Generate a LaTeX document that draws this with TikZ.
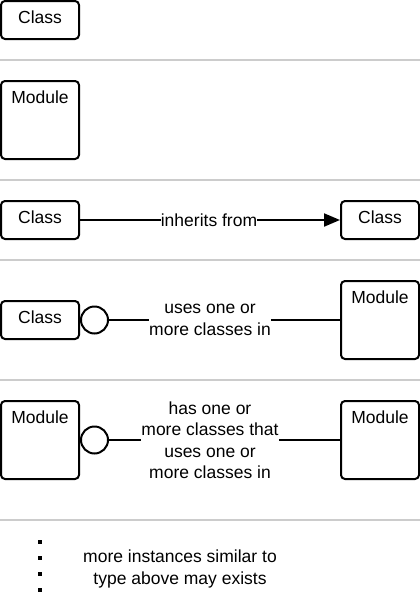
\documentclass[tikz,border=0pt]{standalone}
\usepackage{fontspec}
\setmainfont{Liberation Sans}
\usepackage{xcolor}
\usepackage{tikz}
\usetikzlibrary{positioning,arrows.meta}
\definecolor{sepgray}{RGB}{204,204,204}

\begin{document}
\begin{tikzpicture}[x=1pt,y=-1pt,
	every node/.style={font=\fontsize{17.5}{21.5}\selectfont},
	classbox/.style={draw,rectangle,rounded corners=4pt,line width=2pt,minimum width=78pt,inner xsep=0pt,inner ysep=0pt,text height=22.5pt,text depth=15.5pt},
	modbox/.style={classbox,text depth=55.5pt},
	ring/.style={draw,circle,line width=2pt,minimum size=27pt,inner sep=0pt},
	rellabel/.style={fill=white,inner sep=0pt,align=center}]
	\fill[white] (0,0) rectangle (420,600);
	\useasboundingbox (0,0) rectangle (420,600);
	
	% Trennlinien
	\foreach \y in {60,180,260,380,520}
		\draw[line width=2pt,sepgray] (0,\y) -- (420,\y);
	
	% Klasse
	\node[classbox,anchor=north] (cls) at (40,0) {Class};
	% Modul
	\node[modbox,anchor=north] (mod) at (40,80) {Module};
	
	% Vererbung
	\node[classbox,anchor=north] (inhsrc) at (40,200) {Class};
	\node[classbox,anchor=north] (inhdst) at (380,200) {Class};
	\node[rellabel] (inhlbl) at (209,220) {inherits from};
	\draw[-{Triangle[length=16pt,width=13pt]}, line width=2pt] (inhsrc) -- (inhlbl) -- (inhdst);
	
	% Klasse nutzt Modul
	\node[classbox,anchor=north] (usecls) at (40,300) {Class};
	\node[ring,right=0pt of usecls] (usering) {};
	\node[modbox,anchor=north] (usemod) at (380,280) {Module};
	\node[rellabel] (uselbl) at (210,320) {uses one or\\more classes in};
	\draw[line width=2pt] (usering) -- (uselbl) -- (usemod);
	
	% Modul hat Klassen, die Modul nutzen
	\node[modbox,anchor=north] (hasmod) at (40,400) {Module};
	\node[ring,right=0pt of hasmod] (hasring) {};
	\node[modbox,anchor=north] (hastgt) at (380,400) {Module};
	\node[rellabel] (haslbl) at (210,440) {has one or\\more classes that\\uses one or\\more classes in};
	\draw[line width=2pt] (hasring) -- (haslbl) -- (hastgt);
	
	% weitere Instanzen
	\foreach \y in {542,558,574,590}
		\fill (38,\y-2) rectangle (42,\y+2);
	\node[align=center] (more) at (180,569) {more instances similar to\\type above may exists};
\end{tikzpicture}
\end{document}
